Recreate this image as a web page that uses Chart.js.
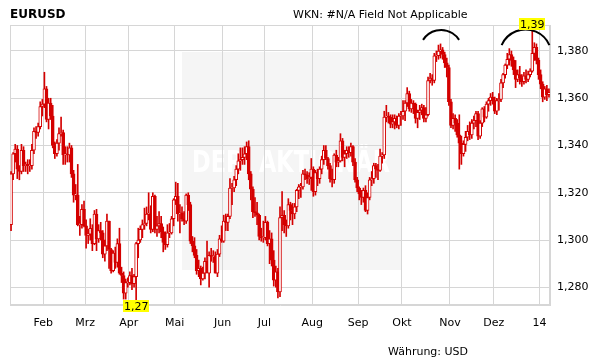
<!DOCTYPE html>
<html>
<head>
<meta charset="utf-8">
<script src="https://cdn.jsdelivr.net/npm/chart.js@4.4.1/dist/chart.umd.min.js"></script>
<style>
  html, body { margin: 0; padding: 0; background: #fff; }
</style>
</head>
<body>
<canvas id="chart" width="611" height="364"></canvas>
<script>
// EURUSD daily candles, 10 Jan 2013 - 7 Jan 2014
const opens = [
  1.3065,1.3280,1.3365,1.3385,1.3300,1.3290,1.3380,1.3315,1.3320,1.3315,1.3315,1.3380,1.3460,1.3455,1.3480,1.3565,
  1.3575,1.3640,1.3510,1.3580,1.3525,1.3400,1.3365,1.3410,1.3450,1.3455,1.3360,1.3365,1.3360,1.3390,1.3280,1.3190,1.3190,1.3065,1.3065,1.3130,
  1.3060,1.3020,1.3025,1.3050,1.2985,1.3110,1.3005,1.3040,1.3030,1.2940,1.2975,1.3080,1.2960,1.2870,1.2945,1.2905,1.2985,1.2860,1.2850,1.2775,1.2820,
  1.2820,1.2850,1.2815,1.2845,1.2985,1.3000,1.3045,1.3065,1.3070,1.3110,1.3110,1.3045,1.3185,1.3045,1.3060,1.3070,1.3035,1.2990,1.2980,1.3030,1.3030,1.3090,
  1.3170,1.3185,1.3110,1.3115,1.3090,1.3080,1.3190,1.3150,1.2995,1.2975,1.2935,1.2870,1.2880,1.2835,1.2860,1.2910,1.2860,1.2935,1.2930,1.2930,1.2860,1.2940,1.3005,
  1.2995,1.3080,1.3075,1.3100,1.3220,1.3220,1.3255,1.3300,1.3335,1.3340,1.3350,1.3365,1.3395,1.3280,1.3215,1.3120,1.3115,1.3105,1.3015,1.3010,
  1.3010,1.3075,1.2985,1.3005,1.2915,1.2830,1.2865,1.2780,1.3095,1.3105,1.3065,1.3060,1.3150,1.3125,1.3110,1.3140,1.3210,1.3225,1.3225,1.3280,1.3275,1.3260,1.3265,
  1.3300,1.3205,1.3285,1.3260,1.3300,1.3340,1.3380,1.3345,1.3315,1.3260,1.3255,1.3360,1.3330,1.3335,1.3420,1.3350,1.3365,1.3380,1.3370,1.3395,1.3330,1.3255,
  1.3220,1.3195,1.3180,1.3210,1.3125,1.3180,1.3255,1.3260,1.3315,1.3300,1.3295,1.3355,1.3360,1.3520,1.3525,1.3520,1.3490,1.3500,1.3515,1.3485,1.3525,
  1.3525,1.3545,1.3580,1.3620,1.3555,1.3580,1.3575,1.3515,1.3540,1.3550,1.3560,1.3515,1.3530,1.3675,1.3685,1.3675,1.3780,1.3780,1.3800,1.3805,1.3785,1.3750,1.3730,
  1.3585,1.3485,1.3515,1.3495,1.3445,1.3410,1.3365,1.3405,1.3435,1.3460,1.3445,1.3495,1.3505,1.3535,1.3440,1.3495,1.3555,1.3520,1.3575,1.3590,1.3605,
  1.3590,1.3545,1.3590,1.3595,1.3665,1.3700,1.3740,1.3765,1.3785,1.3760,1.3720,1.3680,1.3700,1.3685,1.3670,1.3695,1.3680,1.3700,1.3715,1.3790,1.3815,1.3760,
  1.3700,1.3660,1.3605,1.3640,1.3615
];
const highs = [
  1.3290,1.3370,1.3405,1.3400,1.3315,1.3405,1.3395,1.3330,1.3340,1.3340,1.3405,1.3475,1.3480,1.3495,1.3585,1.3595,
  1.3710,1.3650,1.3600,1.3600,1.3570,1.3415,1.3425,1.3475,1.3520,1.3465,1.3395,1.3395,1.3410,1.3400,1.3295,1.3235,1.3320,1.3100,1.3150,1.3165,
  1.3085,1.3045,1.3090,1.3065,1.3125,1.3130,1.3065,1.3075,1.3040,1.3000,1.3110,1.3080,1.2965,1.2955,1.2970,1.3005,1.3050,1.2885,1.2865,1.2835,1.2840,
  1.2865,1.2880,1.2855,1.2990,1.3050,1.3060,1.3085,1.3135,1.3140,1.3200,1.3145,1.3200,1.3190,1.3100,1.3120,1.3100,1.3055,1.3035,1.3065,1.3070,1.3100,1.3175,
  1.3245,1.3240,1.3150,1.3140,1.3120,1.3195,1.3200,1.3160,1.3015,1.3010,1.2960,1.2915,1.2890,1.2885,1.2925,1.2995,1.2950,1.2965,1.2955,1.2950,1.2960,1.3020,1.3060,
  1.3105,1.3110,1.3110,1.3260,1.3240,1.3270,1.3315,1.3365,1.3390,1.3390,1.3395,1.3415,1.3420,1.3290,1.3225,1.3180,1.3160,1.3110,1.3050,1.3080,
  1.3100,1.3080,1.3040,1.3030,1.2955,1.2890,1.2880,1.3140,1.3205,1.3125,1.3085,1.3175,1.3160,1.3155,1.3155,1.3215,1.3235,1.3240,1.3295,1.3300,1.3290,1.3285,1.3345,
  1.3310,1.3295,1.3300,1.3310,1.3355,1.3400,1.3400,1.3350,1.3325,1.3300,1.3365,1.3380,1.3350,1.3450,1.3430,1.3380,1.3395,1.3395,1.3410,1.3400,1.3345,1.3265,
  1.3225,1.3210,1.3220,1.3230,1.3200,1.3265,1.3290,1.3325,1.3325,1.3320,1.3385,1.3370,1.3545,1.3570,1.3540,1.3530,1.3530,1.3530,1.3525,1.3535,1.3545,
  1.3590,1.3590,1.3645,1.3630,1.3595,1.3590,1.3580,1.3550,1.3570,1.3575,1.3570,1.3560,1.3690,1.3705,1.3700,1.3790,1.3800,1.3825,1.3830,1.3815,1.3795,1.3770,1.3740,
  1.3595,1.3535,1.3530,1.3510,1.3530,1.3440,1.3420,1.3460,1.3485,1.3500,1.3510,1.3525,1.3545,1.3545,1.3505,1.3560,1.3565,1.3585,1.3600,1.3620,1.3625,
  1.3605,1.3600,1.3620,1.3680,1.3705,1.3745,1.3790,1.3810,1.3800,1.3775,1.3760,1.3720,1.3735,1.3700,1.3710,1.3720,1.3715,1.3725,1.3890,1.3835,1.3830,1.3770,
  1.3720,1.3670,1.3650,1.3655,1.3640
];
const lows = [
  1.3040,1.3255,1.3330,1.3260,1.3255,1.3280,1.3290,1.3290,1.3280,1.3290,1.3300,1.3365,1.3430,1.3440,1.3470,1.3525,
  1.3560,1.3500,1.3470,1.3510,1.3390,1.3345,1.3355,1.3380,1.3440,1.3320,1.3320,1.3330,1.3330,1.3265,1.3160,1.3170,1.3060,1.3020,1.3050,1.3055,
  1.2965,1.2985,1.3000,1.2955,1.2980,1.2955,1.2990,1.3000,1.2925,1.2910,1.2955,1.2880,1.2860,1.2865,1.2880,1.2885,1.2855,1.2820,1.2750,1.2750,1.2800,
  1.2810,1.2790,1.2800,1.2745,1.2925,1.2990,1.3010,1.3045,1.3060,1.3085,1.3030,1.3035,1.3030,1.3015,1.3030,1.3010,1.2950,1.2960,1.2970,1.3010,1.3025,1.3060,
  1.3150,1.3080,1.3030,1.3080,1.3065,1.3070,1.3125,1.2985,1.2950,1.2925,1.2855,1.2845,1.2810,1.2830,1.2835,1.2865,1.2800,1.2910,1.2905,1.2860,1.2845,1.2930,1.2990,
  1.2990,1.3040,1.3040,1.3090,1.3150,1.3205,1.3230,1.3280,1.3295,1.3320,1.3320,1.3340,1.3255,1.3170,1.3095,1.3100,1.3065,1.3000,1.2995,1.2990,
  1.3000,1.2975,1.2900,1.2890,1.2805,1.2800,1.2755,1.2760,1.3040,1.3030,1.3015,1.3050,1.3085,1.3065,1.3090,1.3120,1.3175,1.3180,1.3215,1.3255,1.3240,1.3235,1.3210,
  1.3185,1.3190,1.3230,1.3240,1.3280,1.3320,1.3340,1.3300,1.3245,1.3225,1.3240,1.3310,1.3310,1.3330,1.3335,1.3310,1.3345,1.3350,1.3355,1.3315,1.3245,1.3205,
  1.3170,1.3150,1.3160,1.3120,1.3110,1.3170,1.3230,1.3240,1.3265,1.3255,1.3290,1.3325,1.3345,1.3500,1.3495,1.3475,1.3475,1.3470,1.3475,1.3470,1.3485,
  1.3510,1.3505,1.3565,1.3545,1.3540,1.3535,1.3495,1.3475,1.3510,1.3530,1.3500,1.3500,1.3525,1.3665,1.3655,1.3665,1.3755,1.3765,1.3770,1.3765,1.3730,1.3690,1.3570,
  1.3475,1.3470,1.3460,1.3435,1.3300,1.3320,1.3355,1.3375,1.3420,1.3425,1.3430,1.3470,1.3480,1.3425,1.3430,1.3480,1.3500,1.3515,1.3545,1.3570,1.3575,
  1.3535,1.3530,1.3550,1.3585,1.3645,1.3685,1.3725,1.3740,1.3735,1.3700,1.3645,1.3670,1.3660,1.3650,1.3660,1.3665,1.3670,1.3690,1.3710,1.3760,1.3745,1.3680,
  1.3640,1.3585,1.3595,1.3590,1.3605
];
const closes = [
  1.3280,1.3365,1.3385,1.3300,1.3290,1.3380,1.3315,1.3320,1.3315,1.3315,1.3380,1.3460,1.3455,1.3480,1.3565,1.3575,
  1.3640,1.3510,1.3580,1.3525,1.3400,1.3365,1.3410,1.3450,1.3455,1.3360,1.3365,1.3360,1.3390,1.3280,1.3190,1.3190,1.3065,1.3065,1.3130,1.3060,
  1.3020,1.3025,1.3050,1.2985,1.3110,1.3005,1.3040,1.3030,1.2940,1.2975,1.3080,1.2960,1.2870,1.2945,1.2905,1.2985,1.2860,1.2850,1.2775,1.2820,1.2820,
  1.2850,1.2815,1.2845,1.2985,1.3000,1.3045,1.3065,1.3070,1.3110,1.3110,1.3045,1.3185,1.3045,1.3060,1.3070,1.3035,1.2990,1.2980,1.3030,1.3030,1.3090,1.3170,
  1.3185,1.3110,1.3115,1.3090,1.3080,1.3190,1.3150,1.2995,1.2975,1.2935,1.2870,1.2880,1.2835,1.2860,1.2910,1.2860,1.2935,1.2930,1.2930,1.2860,1.2940,1.3005,1.2995,
  1.3080,1.3075,1.3100,1.3220,1.3220,1.3255,1.3300,1.3335,1.3340,1.3350,1.3365,1.3395,1.3280,1.3215,1.3120,1.3115,1.3105,1.3015,1.3010,1.3010,
  1.3075,1.2985,1.3005,1.2915,1.2830,1.2865,1.2780,1.3095,1.3105,1.3065,1.3060,1.3150,1.3125,1.3110,1.3140,1.3210,1.3225,1.3225,1.3280,1.3275,1.3260,1.3265,1.3300,
  1.3205,1.3285,1.3260,1.3300,1.3340,1.3380,1.3345,1.3315,1.3260,1.3255,1.3360,1.3330,1.3335,1.3420,1.3350,1.3365,1.3380,1.3370,1.3395,1.3330,1.3255,1.3220,
  1.3195,1.3180,1.3210,1.3125,1.3180,1.3255,1.3260,1.3315,1.3300,1.3295,1.3355,1.3360,1.3520,1.3525,1.3520,1.3490,1.3500,1.3515,1.3485,1.3525,1.3525,
  1.3545,1.3580,1.3620,1.3555,1.3580,1.3575,1.3515,1.3540,1.3550,1.3560,1.3515,1.3530,1.3675,1.3685,1.3675,1.3780,1.3780,1.3800,1.3805,1.3785,1.3750,1.3730,1.3585,
  1.3485,1.3515,1.3495,1.3445,1.3410,1.3365,1.3405,1.3435,1.3460,1.3445,1.3495,1.3505,1.3535,1.3440,1.3495,1.3555,1.3520,1.3575,1.3590,1.3605,1.3590,
  1.3545,1.3590,1.3595,1.3665,1.3700,1.3740,1.3765,1.3785,1.3760,1.3720,1.3680,1.3700,1.3685,1.3670,1.3695,1.3680,1.3700,1.3715,1.3790,1.3815,1.3760,1.3700,
  1.3660,1.3605,1.3640,1.3615,1.3625
];

// first trading day of each month (index into the arrays above) and its label
const monthStart  = [16, 36, 57, 79, 102, 122, 145, 167, 188, 211, 232, 254];
const monthLabels = ['Feb', 'Mrz', 'Apr', 'Mai', 'Jun', 'Jul', 'Aug', 'Sep', 'Okt', 'Nov', 'Dez', '14'];
const yTicks = [1.28, 1.30, 1.32, 1.34, 1.36, 1.38];

// hand-drawn arcs over the two tops: from/to index, end level, top level
const arcs = [
  { from: 197.6, to: 214.9, end: 1.3847, top: 1.3889 },
  { from: 235.3, to: 258.2, end: 1.3825, top: 1.3891 },
];

const RED = '#d40000';
const GRID = '#d6d6d6';
const FONT = '"DejaVu Sans", Verdana, sans-serif';

const idx = opens.map((_, i) => i);

const extras = {
  id: 'extras',
  beforeDraw(chart) {
    const { ctx } = chart;
    ctx.save();
    ctx.fillStyle = '#fff';
    ctx.fillRect(0, 0, chart.width, chart.height);
    // watermark
    ctx.fillStyle = '#f5f5f5';
    ctx.fillRect(182, 52, 219, 218);
    ctx.fillStyle = '#fff';
    ctx.font = 'bold 30px ' + FONT;
    ctx.textAlign = 'left';
    ctx.textBaseline = 'alphabetic';
    ctx.fillText('DER  AKTIONÄR', 192, 172, 198);
    ctx.restore();
  },
  beforeDatasetsDraw(chart) {
    const { ctx, chartArea: a } = chart;
    ctx.save();
    ctx.strokeStyle = GRID;
    ctx.lineWidth = 1;
    ctx.strokeRect(Math.round(a.left) + 0.5, Math.round(a.top) + 0.5,
      Math.round(a.right - a.left) - 1, Math.round(a.bottom - a.top) - 1);
    ctx.restore();
  },
  afterDraw(chart) {
    const { ctx, scales: { x, y } } = chart;
    ctx.save();
    // titles
    ctx.fillStyle = '#000';
    ctx.textBaseline = 'alphabetic';
    ctx.textAlign = 'left';
    ctx.font = 'bold 12px ' + FONT;
    ctx.fillText('EURUSD', 10, 18);
    ctx.font = '11px ' + FONT;
    ctx.fillText('WKN: #N/A Field Not Applicable', 293, 18);
    ctx.fillText('Währung: USD', 388, 355);

    // arcs
    ctx.strokeStyle = '#000';
    ctx.lineWidth = 2;
    arcs.forEach(c => {
      const x0 = x.getPixelForValue(c.from), x1 = x.getPixelForValue(c.to);
      const ye = y.getPixelForValue(c.end), yt = y.getPixelForValue(c.top);
      const half = (x1 - x0) / 2, sag = ye - yt;
      const r = (half * half + sag * sag) / (2 * sag);
      const cx = (x0 + x1) / 2, cy = yt + r;
      const ang = Math.asin(half / r);
      ctx.beginPath();
      ctx.arc(cx, cy, r, -Math.PI / 2 - ang, -Math.PI / 2 + ang);
      ctx.stroke();
    });

    // extreme labels
    const hiIdx = highs.indexOf(Math.max(...highs));
    const loIdx = lows.indexOf(Math.min(...lows));
    ctx.font = '11px ' + FONT;
    ctx.textAlign = 'center';
    ctx.textBaseline = 'middle';
    const tag = (i, v, below) => {
      const txt = v.toFixed(2).replace('.', ',');
      const w = ctx.measureText(txt).width + 2, h = 12;
      const px = x.getPixelForValue(i), py = y.getPixelForValue(v);
      const top = below ? py : py - h;
      ctx.fillStyle = '#ffff00';
      ctx.fillRect(Math.round(px - w / 2), Math.round(top), Math.round(w), h);
      ctx.fillStyle = '#000';
      ctx.fillText(txt, px, top + h / 2 + 1);
    };
    tag(hiIdx, highs[hiIdx], false);
    tag(loIdx, lows[loIdx], true);
    ctx.restore();
  }
};

new Chart(document.getElementById('chart'), {
  type: 'bar',
  data: {
    datasets: [
      {
        label: 'body',
        data: idx.map(i => ({ x: i, y: [opens[i], closes[i]] })),
        backgroundColor: idx.map(i => closes[i] >= opens[i] ? '#fff' : RED),
        borderColor: RED,
        borderWidth: 1,
        borderSkipped: false,
        barThickness: 3,
        minBarLength: 1,
        grouped: false,
        order: 1,
      },
      {
        label: 'range',
        data: idx.map(i => ({ x: i, y: [lows[i], highs[i]] })),
        backgroundColor: RED,
        borderWidth: 0,
        barThickness: 1,
        grouped: false,
        order: 2,
      },
    ],
  },
  options: {
    responsive: false,
    animation: false,
    devicePixelRatio: 1,
    layout: { padding: { top: 25, left: 10, right: 0, bottom: 0 } },
    plugins: { legend: { display: false }, tooltip: { enabled: false }, title: { display: false } },
    scales: {
      x: {
        type: 'linear',
        min: -0.5,
        max: opens.length - 0.5,
        offset: false,
        afterBuildTicks: s => { s.ticks = monthStart.map(v => ({ value: v - 0.5 })); },
        afterFit: s => { s.height = 59; },
        ticks: {
          autoSkip: false, maxRotation: 0, padding: 12, color: '#000',
          font: { family: FONT, size: 11 },
          callback: (v, i) => monthLabels[i],
        },
        grid: { color: GRID, drawTicks: false, offset: false },
        border: { color: GRID },
      },
      y: {
        position: 'right',
        min: 1.2725,
        max: 1.3910,
        afterBuildTicks: s => { s.ticks = yTicks.map(v => ({ value: v })); },
        afterFit: s => { s.width = 61; },
        ticks: {
          padding: 7, color: '#000',
          font: { family: FONT, size: 11 },
          callback: v => v.toFixed(3).replace('.', ','),
        },
        grid: { color: GRID, drawTicks: false },
        border: { color: GRID },
      },
    },
  },
  plugins: [extras],
});
</script>
</body>
</html>
